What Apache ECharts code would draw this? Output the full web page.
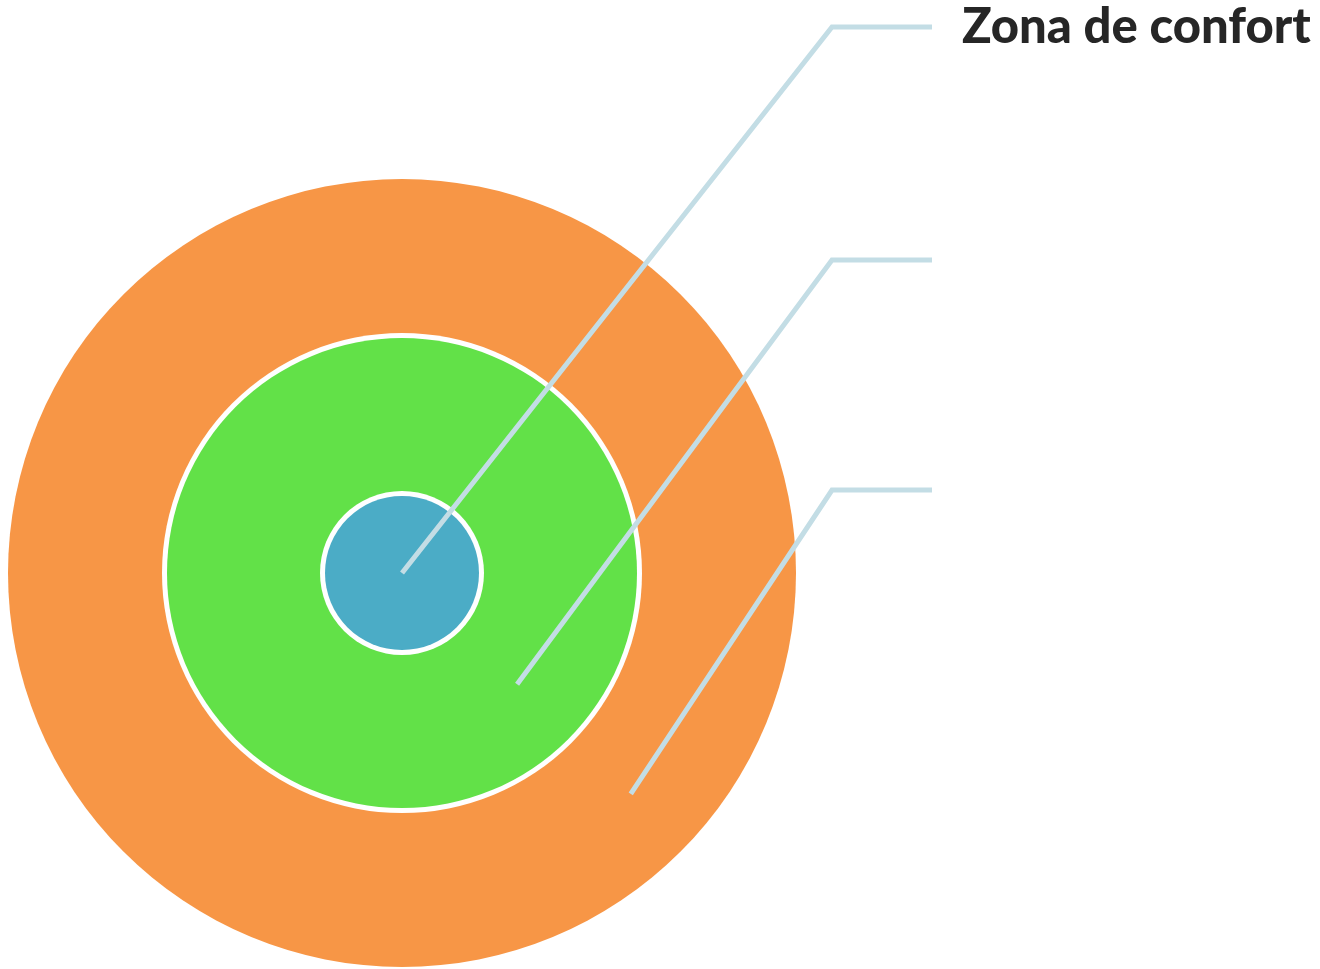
<!DOCTYPE html>
<html>
<head>
<meta charset="utf-8">
<script src="https://cdn.jsdelivr.net/npm/echarts@6/dist/echarts.min.js"></script>
<style>
  html, body { margin: 0; padding: 0; background: #fff; }
  #chart { width: 1320px; height: 969px; }
</style>
</head>
<body>
<div id="chart"></div>
<script>
// zonas, de dentro hacia fuera
var zoneNames = ['Zona de confort', '', ''];
var zoneColors = ['#4bacc6', '#62e148', '#f79646'];
// radio de cada disco (px) y punto medio del anillo donde arranca la guía
var zoneRadius = [77, 235, 394];
var anchorRadius = [0, 160, 318];
// altura de cada etiqueta a la derecha
var labelY = [27, 260, 490];

var W = 1320, H = 969;
var cx = 402, cy = 573;
var ang = 44 * Math.PI / 180;
var elbowX = 832, endX = 932;
var ringGap = 5;

var myChart = echarts.init(document.getElementById('chart'), null, { renderer: 'canvas' });

function disc(r, color, name) {
  return {
    type: 'pie',
    center: [cx, cy],
    radius: [0, r],
    silent: true,
    animation: false,
    label: { show: false },
    labelLine: { show: false },
    zlevel: 0,
    itemStyle: { color: color, borderWidth: 0 },
    data: [{ name: name, value: 1 }]
  };
}

// discos: el grande primero para que quede debajo, con aro blanco en los interiores
var pies = [];
for (var i = zoneRadius.length - 1; i >= 0; i--) {
  if (i < zoneRadius.length - 1) {
    pies.push(disc(zoneRadius[i] + ringGap, '#fff', ''));
  }
  pies.push(disc(zoneRadius[i], zoneColors[i], zoneNames[i]));
}

// guías
var guides = zoneNames.map(function (name, i) {
  var sx = cx + anchorRadius[i] * Math.cos(ang);
  var sy = cy + anchorRadius[i] * Math.sin(ang);
  return {
    type: 'line',
    silent: true,
    animation: false,
    symbol: 'none',
    zlevel: 1,
    lineStyle: { color: '#c3dde5', width: 5, cap: 'butt', join: 'miter' },
    data: [[sx, sy], [elbowX, labelY[i]], [endX, labelY[i]]]
  };
});

var labels = {
  type: 'scatter',
  silent: true,
  animation: false,
  symbolSize: 0,
  zlevel: 1,
  itemStyle: { opacity: 1 },
  label: {
    show: true,
    position: 'right',
    distance: 30,
    formatter: function (p) { return p.name; },
    fontFamily: 'Lato',
    fontWeight: 900,
    fontSize: 49,
    color: '#262626',
    opacity: 1
  },
  data: zoneNames.map(function (name, i) {
    return { name: name, value: [endX, labelY[i]] };
  })
};

var option = {
  backgroundColor: '#fff',
  grid: { left: 0, right: 0, top: 0, bottom: 0 },
  xAxis: { type: 'value', min: 0, max: W, show: false },
  yAxis: { type: 'value', min: 0, max: H, inverse: true, show: false },
  series: pies.concat(guides).concat([labels])
};

myChart.setOption(option);
</script>
</body>
</html>
